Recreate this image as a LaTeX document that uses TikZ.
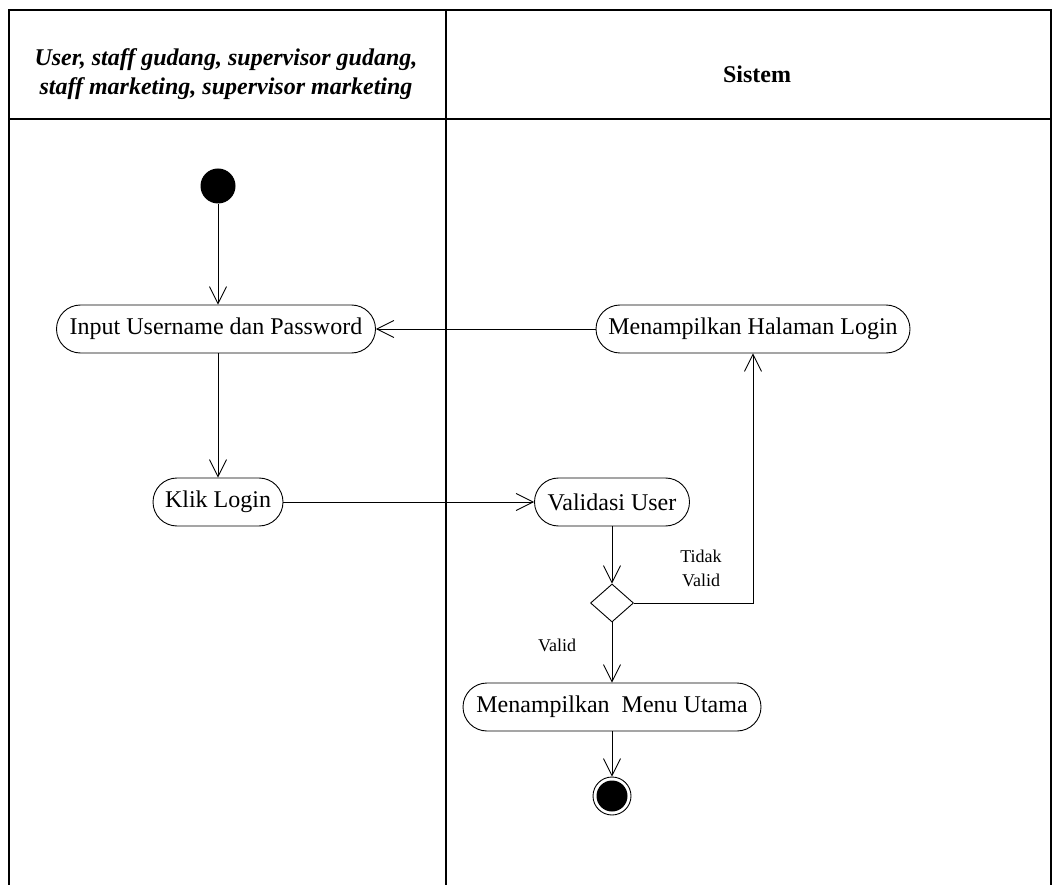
\documentclass[tikz,border=0pt]{standalone}
\usepackage{fontspec}
\setmainfont{Liberation Serif}
\usetikzlibrary{arrows.meta,shapes.geometric}
\begin{document}
\begin{tikzpicture}[x=1pt,y=-1pt,
  font=\fontsize{24}{28}\selectfont,
  lane/.style={line width=1.6pt},
  act/.style={draw,line width=0.9pt,rounded corners=24pt,minimum height=48pt,inner xsep=10pt,inner ysep=0pt},
  flow/.style={line width=0.9pt,-{Straight Barb[length=17pt,width=17pt,line width=0.9pt]}},
  decision/.style={draw,diamond,line width=0.9pt,minimum width=43pt,minimum height=38pt,inner sep=0pt},
  lbl/.style={font=\fontsize{18}{24}\selectfont,align=center}]
\useasboundingbox (0,0) rectangle (1058,885);
% swimlane frame
\draw[lane] (9,885) -- (9,10) -- (1051,10) -- (1051,885);
\draw[lane] (9,119) -- (1051,119);
\draw[lane] (446,10) -- (446,885);
\node[align=center,font=\fontsize{24}{29}\selectfont\bfseries\itshape] (laneA) at (226,74)
  {User, staff gudang, supervisor gudang,\\staff marketing, supervisor marketing};
\node[font=\fontsize{24}{28}\selectfont\bfseries] (laneB) at (757,74) {Sistem};
% activities
\node[circle,fill=black,minimum size=35pt,inner sep=0pt] (start) at (218,186) {};
\node[act,minimum width=319pt] (input) at (216,329) {Input Username dan Password};
\node[act,minimum width=314pt] (halaman) at (753,329) {Menampilkan Halaman Login};
\node[act,minimum width=130pt] (klik) at (218,502) {Klik Login};
\node[act,minimum width=155pt] (validasi) at (612,502) {Validasi User};
\node[decision] (dec) at (612,603) {};
\node[act,minimum width=298pt] (menu) at (612,707) {Menampilkan\ \ Menu Utama};
\node[circle,draw,line width=0.9pt,minimum size=38pt,inner sep=0pt] (end) at (612,796) {};
\node[circle,fill=black,minimum size=31pt,inner sep=0pt] (endin) at (end.center) {};
% transitions
\draw[flow] (start) -- (input.north -| start);
\draw[flow] (halaman) -- (input);
\draw[flow] (input.south -| start) -- (klik);
\draw[flow] (klik) -- (validasi);
\draw[flow] (validasi) -- (dec.north);
\draw[flow] (dec.east) -| (halaman.south);
\node[lbl] (tidak) at (701,568) {Tidak\\Valid};
\draw[flow] (dec.south) -- (menu.north);
\node[lbl] (valid) at (557,645) {Valid};
\draw[flow] (menu) -- (end);
\end{tikzpicture}
\end{document}
